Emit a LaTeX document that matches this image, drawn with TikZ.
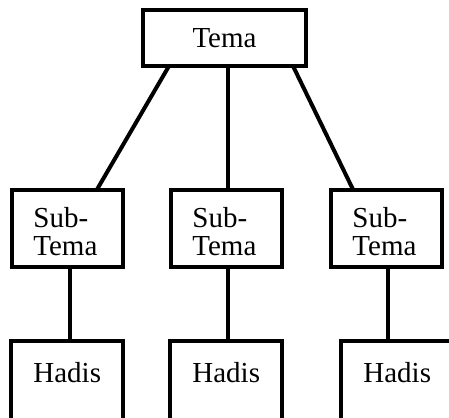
\documentclass[tikz,border=0pt]{standalone}
\usepackage{fontspec}
\setmainfont{Liberation Serif}
\begin{document}
\begin{tikzpicture}[x=0.5pt,y=-0.5pt,
  box/.style={draw=black,line width=2pt,rectangle,inner sep=0pt,outer sep=0pt,anchor=north west,
    font=\fontsize{14.5pt}{14pt}\selectfont,align=left},
  subbox/.style={box,minimum width=55.5pt,minimum height=38.75pt},
  hbox/.style={box,minimum width=56pt,minimum height=50pt},
  lbl/.style={inner sep=0pt,anchor=base west,font=\fontsize{14.5pt}{14pt}\selectfont},
  conn/.style={line width=2pt}]
\useasboundingbox (0,0) rectangle (449,417);
\clip (0,0) rectangle (449,417);
\node[box,minimum width=81.5pt,minimum height=28pt] (t) at (143,10) {Tema};
\node[subbox] (s1) at (12,189.5) {};
\node[subbox] (s2) at (171,189.5) {};
\node[subbox] (s3) at (331,189.5) {};
\node[lbl,align=left,anchor=north west] (st1) at (33,207) {Sub-\\Tema};
\node[lbl,align=left,anchor=north west] (st2) at (192,207) {Sub-\\Tema};
\node[lbl,align=left,anchor=north west] (st3) at (352,207) {Sub-\\Tema};
\node[hbox] (h1) at (11,341) {};
\node[hbox] (h2) at (170,341) {};
\node[hbox] (h3) at (341,341) {};
\node[lbl] (l1) at (33,382) {Hadis};
\node[lbl] (l2) at (192,382) {Hadis};
\node[lbl] (l3) at (363,382) {Hadis};
\draw[conn] ([xshift=13pt]t.south west) -- ([xshift=42.5pt]s1.north west);
\draw[conn] ([xshift=42.5pt]t.south west) -- ([xshift=28.5pt]s2.north west);
\draw[conn] ([xshift=75pt]t.south west) -- ([xshift=11pt]s3.north west);
\draw[conn] ([xshift=29pt]s1.south west) -- ([xshift=29.5pt]h1.north west);
\draw[conn] ([xshift=28.5pt]s2.south west) -- ([xshift=29pt]h2.north west);
\draw[conn] ([xshift=28.5pt]s3.south west) -- ([xshift=23.5pt]h3.north west);
\end{tikzpicture}
\end{document}
